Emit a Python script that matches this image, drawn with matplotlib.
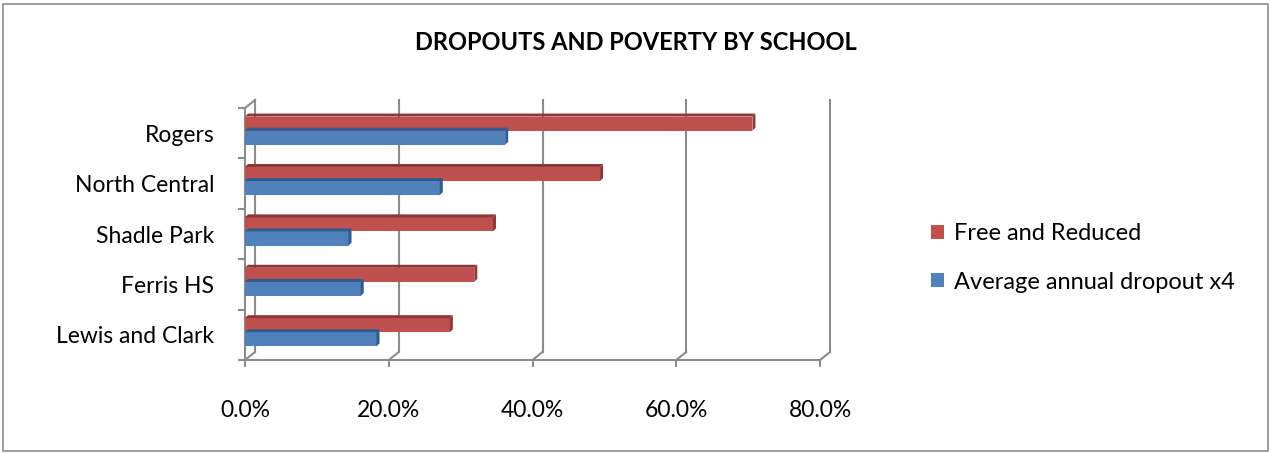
import matplotlib
matplotlib.use("Agg")
import matplotlib.pyplot as plt
from matplotlib.patches import Polygon, Patch, Rectangle

schools = ["Lewis and Clark", "Ferris HS", "Shadle Park", "North Central", "Rogers"]
free_reduced = [28.5, 31.9, 34.5, 49.4, 70.6]
dropout_x4 = [18.3, 16.1, 14.4, 27.1, 36.2]
x_ticks = [0, 20, 40, 60, 80]
x_tick_labels = ["0.0%", "20.0%", "40.0%", "60.0%", "80.0%"]
series_names = ["Free and Reduced", "Average annual dropout x4"]

RED = "#C0504D"
RED_DARK = "#8C3836"
BLUE = "#4F81BD"
BLUE_DARK = "#2F5A8C"
GRID = "#8C8C8C"

plt.rcParams['font.family'] = ['Lato', 'DejaVu Sans']

W, H = 1272, 454
fig = plt.figure(figsize=(W / 100, H / 100), dpi=100)
fig.patch.set_facecolor("white")

# outer border
fig.add_artist(Rectangle((3 / W, 3 / H), (W - 7) / W, (H - 7) / H, transform=fig.transFigure,
                         fill=False, edgecolor="#8C8C8C", linewidth=1.2))

fig.text(0.5, 1 - 42 / H, "DROPOUTS AND POVERTY BY SCHOOL", ha="center", va="center",
         fontsize=17, fontweight="bold", color="black")

left_px, right_px, top_px, bot_px = 245, 820, 108, 360
ax = fig.add_axes([left_px / W, (H - bot_px) / H, (right_px - left_px) / W, (bot_px - top_px) / H])
ax.set_xlim(0, 80)
ax.set_ylim(0, 5)
for s in ax.spines.values():
    s.set_visible(False)
ax.set_facecolor("none")

xpp = 80 / (right_px - left_px)
ypp = 5 / (bot_px - top_px)
DX = 10 * xpp
DY = 8 * ypp

lw = 1.5
# back wall gridlines + floor slants
for v in x_ticks:
    ax.plot([v + DX, v + DX], [DY, 5 + DY], color=GRID, lw=lw, clip_on=False, zorder=1)
    ax.plot([v, v + DX], [0, DY], color=GRID, lw=lw, clip_on=False, zorder=1)
# left wall top slant
ax.plot([0, DX], [5, 5 + DY], color=GRID, lw=lw, clip_on=False, zorder=1)
# front axes
ax.plot([0, 0], [0, 5], color=GRID, lw=lw, clip_on=False, zorder=4)
ax.plot([0, 80], [0, 0], color=GRID, lw=lw, clip_on=False, zorder=4)

# bars with 3D faces
h = 0.28
bdx = 3 * xpp
bdy = 3 * ypp
for i in range(len(schools)):
    c = i + 0.5 + 0.05
    for val, yc, col, dark in [(free_reduced[i], c + h / 2, RED, RED_DARK),
                               (dropout_x4[i], c - h / 2, BLUE, BLUE_DARK)]:
        y0, y1 = yc - h / 2, yc + h / 2
        ax.barh(yc, val, height=h, left=0, color=col, edgecolor="none", zorder=5)
        ax.add_patch(Polygon([(0, y1), (val, y1), (val + bdx, y1 + bdy), (bdx, y1 + bdy)],
                             closed=True, facecolor=dark, edgecolor="none", zorder=5, clip_on=False))
        ax.add_patch(Polygon([(val, y0), (val + bdx, y0 + bdy), (val + bdx, y1 + bdy), (val, y1)],
                             closed=True, facecolor=dark, edgecolor="none", zorder=5, clip_on=False))

# ticks
ax.set_xticks(x_ticks)
ax.set_xticklabels(x_tick_labels)
ax.tick_params(axis="x", length=5, width=1.5, color=GRID, pad=24, labelsize=16.5)
ax.set_yticks(range(6))
ax.set_yticklabels([""] * 6)
ax.tick_params(axis="y", which="major", length=5, width=1.5, color=GRID)
ax.set_yticks([i + 0.5 for i in range(5)], minor=True)
ax.set_yticklabels(schools, minor=True)
ax.tick_params(axis="y", which="minor", length=0, pad=22, labelsize=16.5)

handles = [Patch(facecolor=RED, edgecolor="none"), Patch(facecolor=BLUE, edgecolor="none")]
fig.legend(handles, series_names, loc="center left", bbox_to_anchor=(910 / W, 1 - 258 / H),
           frameon=False, fontsize=17, handlelength=0.55, handleheight=0.55,
           handletextpad=0.4, labelspacing=1.15)

fig.savefig("out.png", dpi=100)
